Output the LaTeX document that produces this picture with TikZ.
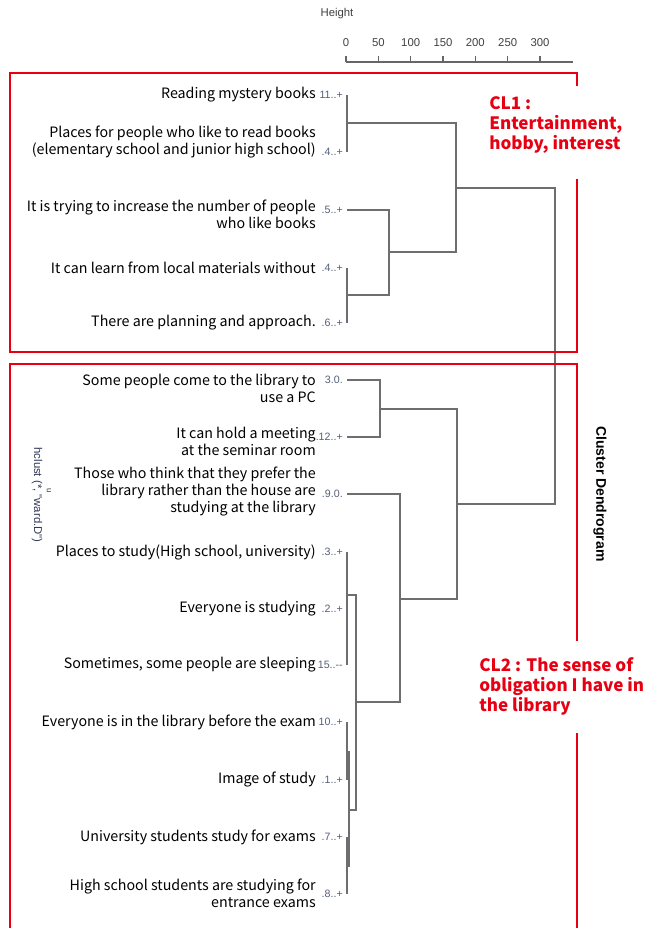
\documentclass[tikz,border=0pt]{standalone}
\usepackage{fontspec}
\setmainfont{Noto Sans CJK JP}
\newfontfamily\arialfont{Liberation Sans}
\usepackage{tikz}
\definecolor{clred}{RGB}{230,0,18}
\definecolor{treegray}{RGB}{110,110,110}
\definecolor{numgray}{RGB}{85,95,120}
\definecolor{subnavy}{RGB}{45,55,85}

\begin{document}
\begin{tikzpicture}[x=0.75pt,y=0.75pt,yscale=-1,xscale=1,
  leaf/.style={anchor=east,inner sep=0pt,align=right,font=\fontsize{10.7}{12.75}\selectfont},
  num/.style={anchor=east,inner sep=0pt,text=numgray,font=\arialfont\fontsize{8}{9}\selectfont},
  tree/.style={draw=treegray,line width=0.9pt},
  axis/.style={draw=black!60,line width=0.8pt},
  axlab/.style={inner sep=0pt,text=black!75,font=\arialfont\fontsize{8.5}{10}\selectfont},
  box/.style={draw=clred,line width=1pt},
  cltext/.style={anchor=north west,inner sep=0pt,align=left,text=clred,font=\bfseries\fontsize{12.8}{15}\selectfont}]
\useasboundingbox (0,0) rectangle (644,928);

%Height axis
\node[axlab] (hgt) at (337,14) {Height};
\draw[axis] (346,62) -- (573,62);
\foreach \v in {0,50,...,300}{
  \draw[axis] ({346+\v*0.6467},56) -- ({346+\v*0.6467},62);
  \node[axlab] (tk\v) at ({346+\v*0.6467},43) {\v};
}

%Leaf ends
\coordinate (l1) at (347,95);
\coordinate (l2) at (347,152);
\coordinate (l3) at (347,210);
\coordinate (l4) at (347,268);
\coordinate (l5) at (347,323);
\coordinate (l6) at (347,380);
\coordinate (l7) at (347,437);
\coordinate (l8) at (347,494);
\coordinate (l9) at (347,552);
\coordinate (l10) at (347,609);
\coordinate (l11) at (347,665);
\coordinate (l12) at (347,722);
\coordinate (l13) at (347,780);
\coordinate (l14) at (347,837);
\coordinate (l15) at (347,894);

%Merge points
\coordinate (a1) at (347,123);
\coordinate (a2) at (347,295);
\coordinate (a3) at (389,252);
\coordinate (a4) at (456,188);
\coordinate (b1) at (380,409);
\coordinate (b2) at (347,595);
\coordinate (b3) at (347,752);
\coordinate (b4) at (347,866);
\coordinate (b5) at (349,810);
\coordinate (b6) at (356,702);
\coordinate (b7) at (400,599);
\coordinate (b8) at (457,504);
\coordinate (root) at (555,346);

%Dendrogram
\draw[tree] (l1) -| (a1) |- (l2);
\draw[tree] (l4) -| (a2) |- (l5);
\draw[tree] (l3) -| (a3) |- (a2);
\draw[tree] (a1) -| (a4) |- (a3);
\draw[tree] (l6) -| (b1) |- (l7);
\draw[tree] (l9) -- (l11);
\draw[tree] (l12) -- (l13);
\draw[tree] (l14) -- (l15);
\draw[tree] (b3) -| (b5) |- (b4);
\draw[tree] (b2) -| (b6) |- (b5);
\draw[tree] (l8) -| (b7) |- (b6);
\draw[tree] (b1) -| (b8) |- (b7);
\draw[tree] (a4) -| (root) |- (b8);

% Text Node
\node[leaf] (t1) at (316,95) {Reading mystery books};
\node[leaf] (t2) at (316,142) {Places for people who like to read books\\(elementary school and junior high school)};
\node[leaf] (t3) at (316,214) {It is trying to increase the number of people\\who like books};
\node[leaf] (t4) at (316,268) {It can learn from local materials without};
\node[leaf] (t5) at (316,323) {There are planning and approach.};
\node[leaf] (t6) at (316,388) {Some people come to the library to\\use a PC};
\node[leaf] (t7) at (316,441) {It can hold a meeting\\at the seminar room};
\node[leaf] (t8) at (316,492) {Those who think that they prefer the\\library rather than the house are\\studying at the library};
\node[leaf] (t9) at (316,552) {Places to study(High school, university)};
\node[leaf] (t10) at (316,609) {Everyone is studying};
\node[leaf] (t11) at (316,665) {Sometimes, some people are sleeping};
\node[leaf] (t12) at (316,722) {Everyone is in the library before the exam};
\node[leaf] (t13) at (316,780) {Image of study};
\node[leaf] (t14) at (316,837) {University students study for exams};
\node[leaf] (t15) at (316,893) {High school students are studying for\\entrance exams};

% Leaf numbers
\node[num] (n1) at (343,95) {11..+};
\node[num] (n2) at (343,152) {.4..+};
\node[num] (n3) at (343,210) {.5..+};
\node[num] (n4) at (343,268) {.4..+};
\node[num] (n5) at (343,323) {.6..+};
\node[num] (n6) at (343,380) {3.0.};
\node[num] (n7) at (343,437) {.12..+};
\node[num] (n8) at (343,494) {.9.0.};
\node[num] (n9) at (343,552) {.3..+};
\node[num] (n10) at (343,609) {.2..+};
\node[num] (n11) at (343,665) {15..--};
\node[num] (n12) at (343,722) {10..+};
\node[num] (n13) at (343,780) {.1..+};
\node[num] (n14) at (343,837) {.7..+};
\node[num] (n15) at (343,894) {.8..+};

%Cluster boxes
\draw[box] (577,86) -- (577,73) -- (10,73) -- (10,352) -- (577,352) -- (577,179);
\draw[box] (577,641) -- (577,364) -- (10,364) -- (10,928);
\draw[box] (577,733) -- (577,928);

% Text Node
\node[cltext] (cl1) at (489,96) {CL1 :\\Entertainment,\\hobby, interest};
\node[cltext] (cl2) at (479,657) {CL2 : The sense of\\obligation I have in\\the library};
\node[rotate=-90,inner sep=0pt,font=\arialfont\bfseries\fontsize{10.5}{12}\selectfont] (title) at (600,494) {Cluster Dendrogram};
\node[rotate=-90,inner sep=0pt,text=subnavy,font=\arialfont\fontsize{8.5}{10}\selectfont] (sub) at (37,495) {hclust (*, "ward.D")};
\node[rotate=-90,inner sep=0pt,text=subnavy,font=\arialfont\fontsize{6}{7}\selectfont] (xlab) at (49,491) {u};

\end{tikzpicture}
\end{document}
